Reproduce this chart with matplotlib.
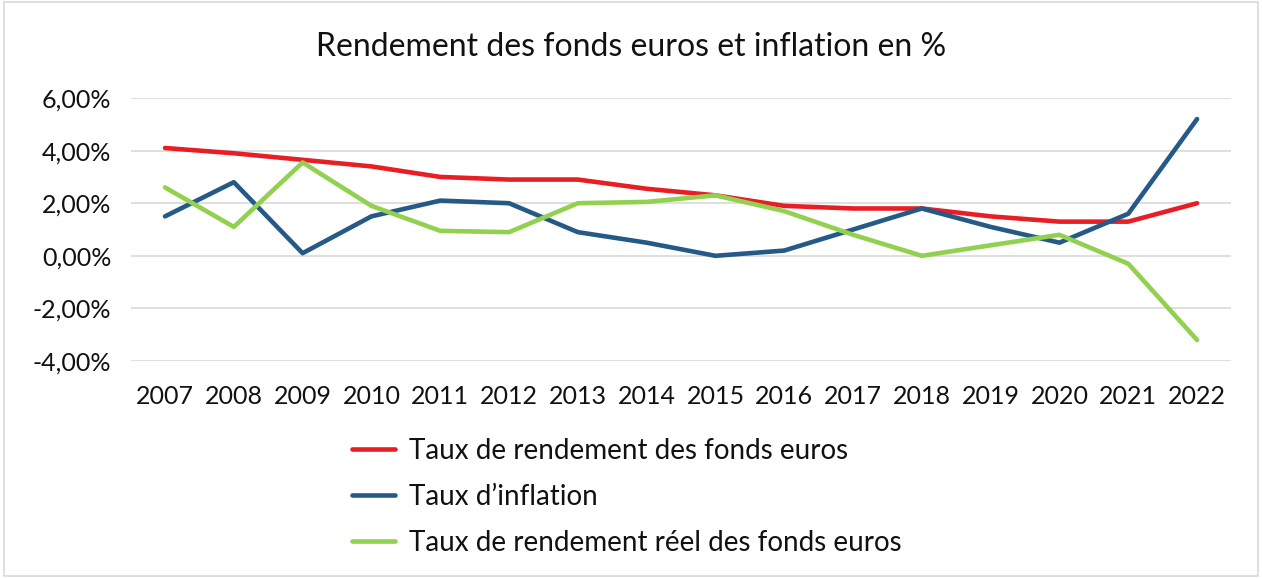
import matplotlib.pyplot as plt
from matplotlib.patches import Rectangle
from matplotlib.ticker import FuncFormatter

annees = ['2007', '2008', '2009', '2010', '2011', '2012', '2013', '2014',
          '2015', '2016', '2017', '2018', '2019', '2020', '2021', '2022']
rendement = [4.1, 3.9, 3.65, 3.4, 3.0, 2.9, 2.9, 2.55, 2.3, 1.9, 1.8, 1.8, 1.5, 1.3, 1.3, 2.0]
inflation = [1.5, 2.8, 0.1, 1.5, 2.1, 2.0, 0.9, 0.5, 0.0, 0.2, 1.0, 1.8, 1.1, 0.5, 1.6, 5.2]
reel = [2.6, 1.1, 3.55, 1.9, 0.95, 0.9, 2.0, 2.05, 2.3, 1.7, 0.8, 0.0, 0.4, 0.8, -0.3, -3.2]

plt.rcParams['font.family'] = ['Lato', 'DejaVu Sans']

fig = plt.figure(figsize=(12.62, 5.78), dpi=100)
ax = fig.add_axes([0.1035, 0.3754, 0.8723, 0.455])

x = range(len(annees))
ax.plot(x, rendement, color='#E81E25', lw=3.3, solid_capstyle='round', label='Taux de rendement des fonds euros')
ax.plot(x, inflation, color='#255A87', lw=3.3, solid_capstyle='round', label='Taux d\u2019inflation')
ax.plot(x, reel, color='#92D050', lw=3.3, solid_capstyle='round', label='Taux de rendement r\u00e9el des fonds euros')

ax.set_xlim(-0.5, len(annees) - 0.5)
ax.set_ylim(-4, 6)
ax.set_yticks([-4, -2, 0, 2, 4, 6])
ax.yaxis.set_major_formatter(FuncFormatter(lambda v, p: ('%.2f%%' % v).replace('.', ',')))
ax.set_xticks(list(x))
ax.set_xticklabels(annees)
ax.tick_params(axis='y', length=0, pad=14, labelsize=18, labelcolor='#111111')
ax.tick_params(axis='x', length=0, pad=17, labelsize=18, labelcolor='#111111')
ax.grid(axis='y', color='#D9D9D9', lw=1.2)
ax.set_axisbelow(True)
for s in ax.spines.values():
    s.set_visible(False)

fig.text(0.5, 0.918, 'Rendement des fonds euros et inflation en %', ha='center', va='center',
         fontsize=23, color='#111111')

ax.legend(loc='upper left', bbox_to_anchor=(0.279, 0.243), bbox_transform=fig.transFigure,
          frameon=False, fontsize=20, handlelength=1.55, handletextpad=0.5,
          labelspacing=0.72, borderaxespad=0, borderpad=0, labelcolor='#111111')

fig.patches.append(Rectangle((0.003, 0.003), 0.994, 0.993, transform=fig.transFigure,
                             fill=False, edgecolor='#D9D9D9', lw=1.2))

fig.savefig('out.png', dpi=100)
